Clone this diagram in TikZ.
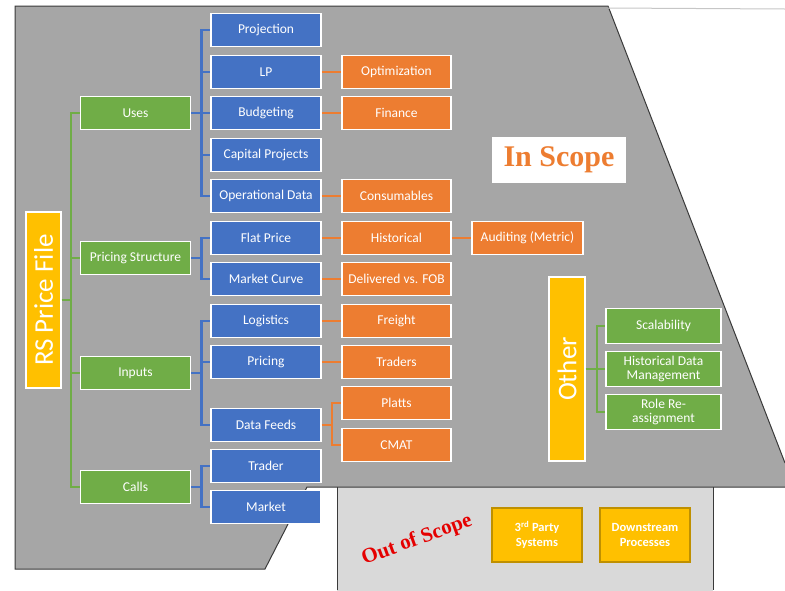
\documentclass[tikz,border=0pt]{standalone}
\usepackage{fontspec}
\setmainfont{Carlito}
\newfontfamily\titlefont{Liberation Serif}
\definecolor{mgreen}{HTML}{70AD47}
\definecolor{mblue}{HTML}{4472C4}
\definecolor{morange}{HTML}{ED7D31}
\definecolor{myellow}{HTML}{FFC000}
\definecolor{mgold}{HTML}{BF9000}
\definecolor{inscope}{HTML}{A6A6A6}
\definecolor{outscope}{HTML}{D9D9D9}
\definecolor{edgegray}{HTML}{3A3A3A}
\tikzset{
   box/.style={draw=white,line width=1.5pt,text=white,inner sep=1pt,
      minimum height=33pt,font=\fontsize{13.5}{14}\selectfont,align=center},
   usebox/.style={box,fill=mgreen,minimum width=110pt},
   itembox/.style={box,fill=mblue,minimum width=110pt},
   linkbox/.style={box,fill=morange,minimum width=109pt},
   otherbox/.style={box,fill=mgreen,minimum width=115pt,minimum height=35pt},
   bigbox/.style={box,fill=myellow,rotate=90,minimum height=35pt,
      font=\fontsize{27}{30}\selectfont},
   extbox/.style={draw=mgold,line width=1.5pt,fill=myellow,text=white,
      minimum width=90pt,minimum height=54pt,align=center,
      font=\fontsize{12.5}{15}\selectfont\bfseries},
   gline/.style={draw=mgreen,line width=2.5pt},
   bline/.style={draw=mblue,line width=2.5pt},
   oline/.style={draw=morange,line width=2.5pt}
}
\begin{document}
\begin{tikzpicture}[x=1pt,y=-1pt]
   \useasboundingbox (0,0) rectangle (785,590);
   \fill[inscope] (15,6) -- (608,6) -- (785,463) -- (785,487) -- (307,487)
      -- (265,569) -- (15,569) -- cycle;
   \fill[outscope] (337,487) rectangle (713,595);
   \draw[edgegray,line width=1pt] (785,463) -- (608,6) -- (15,6) -- (15,569)
      -- (265,569) -- (307,487) -- (785,487);
   \draw[edgegray,line width=1pt] (337,590) -- (337,487) (713,487) -- (713,590);
   \draw[gray!45,line width=1pt] (608,8) -- (785,9);

   \node[bigbox,minimum width=176pt] (rsfile) at (43.5,300) {RS Price File};

   \node[usebox] (uses)    at (135.5,113) {Uses};
   \node[usebox] (pricing) at (135.5,258) {Pricing Structure};
   \node[usebox] (inputs)  at (135.5,373) {Inputs};
   \node[usebox] (calls)   at (135.5,487) {Calls};

   \node[itembox] (projection) at (266,30)  {Projection};
   \node[itembox] (lp)         at (266,72)  {LP};
   \node[itembox] (budgeting)  at (266,113) {Budgeting};
   \node[itembox] (capital)    at (266,155) {Capital Projects};
   \node[itembox] (operational) at (266,196) {Operational Data};
   \node[itembox] (flatprice)  at (266,238) {Flat Price};
   \node[itembox] (curve)      at (266,279) {Market Curve};
   \node[itembox] (logistics)  at (266,321) {Logistics};
   \node[itembox] (pricingin)  at (266,362) {Pricing};
   \node[itembox] (datafeeds)  at (266,425) {Data Feeds};
   \node[itembox] (trader)     at (266,466) {Trader};
   \node[itembox] (market)     at (266,507) {Market};

   \node[linkbox] (optim)       at (396.5,72)  {Optimization};
   \node[linkbox] (finance)     at (396.5,113) {Finance};
   \node[linkbox] (consumables) at (396.5,196) {Consumables};
   \node[linkbox] (historical)  at (396.5,238) {Historical};
   \node[linkbox] (delivered)   at (396.5,279) {Delivered vs. FOB};
   \node[linkbox] (freight)     at (396.5,321) {Freight};
   \node[linkbox] (traders)     at (396.5,362) {Traders};
   \node[linkbox] (platts)      at (396.5,403) {Platts};
   \node[linkbox] (cmat)        at (396.5,445) {CMAT};
   \node[linkbox,minimum width=111pt] (auditing) at (527.5,238) {Auditing (Metric)};

   \node[fill=white,minimum width=134pt,minimum height=46pt,text=morange,
      font=\titlefont\fontsize{30}{32}\selectfont\bfseries] (inlabel) at (559,160) {In Scope};

   \node[bigbox,minimum width=184pt,minimum height=36pt] (other) at (567,369) {Other};
   \node[otherbox] (scalability) at (663.5,326) {Scalability};
   \node[otherbox] (histdata)    at (663.5,369) {Historical Data\\Management};
   \node[otherbox] (reassign)    at (663.5,412) {Role Re-\\assignment};

   \node[rotate=20,text=red!90!black,
      font=\titlefont\fontsize{21}{23}\selectfont\bfseries] (outlabel) at (417,540) {Out of Scope};
   \node[extbox] (thirdparty) at (537,535) {3\textsuperscript{rd} Party\\Systems};
   \node[extbox] (downstream) at (645,535) {Downstream\\Processes};

   \foreach \n in {uses,pricing,inputs,calls}
      \draw[gline] (rsfile.south) -- ++(9,0) |- (\n.west);
   \foreach \n in {projection,lp,budgeting,capital,operational}
      \draw[bline] (uses.east) -- ++(10,0) |- (\n.west);
   \foreach \n in {flatprice,curve}
      \draw[bline] (pricing.east) -- ++(10,0) |- (\n.west);
   \foreach \n in {logistics,pricingin,datafeeds}
      \draw[bline] (inputs.east) -- ++(10,0) |- (\n.west);
   \foreach \n in {trader,market}
      \draw[bline] (calls.east) -- ++(10,0) |- (\n.west);
   \draw[oline] (lp) -- (optim);
   \draw[oline] (budgeting) -- (finance);
   \draw[oline] (operational) -- (consumables);
   \draw[oline] (flatprice) -- (historical);
   \draw[oline] (historical) -- (auditing);
   \draw[oline] (curve) -- (delivered);
   \draw[oline] (logistics) -- (freight);
   \draw[oline] (pricingin) -- (traders);
   \foreach \n in {platts,cmat}
      \draw[oline] (datafeeds.east) -- ++(10,0) |- (\n.west);
   \foreach \n in {scalability,histdata,reassign}
      \draw[gline] (other.south) -- ++(11,0) |- (\n.west);
\end{tikzpicture}
\end{document}
